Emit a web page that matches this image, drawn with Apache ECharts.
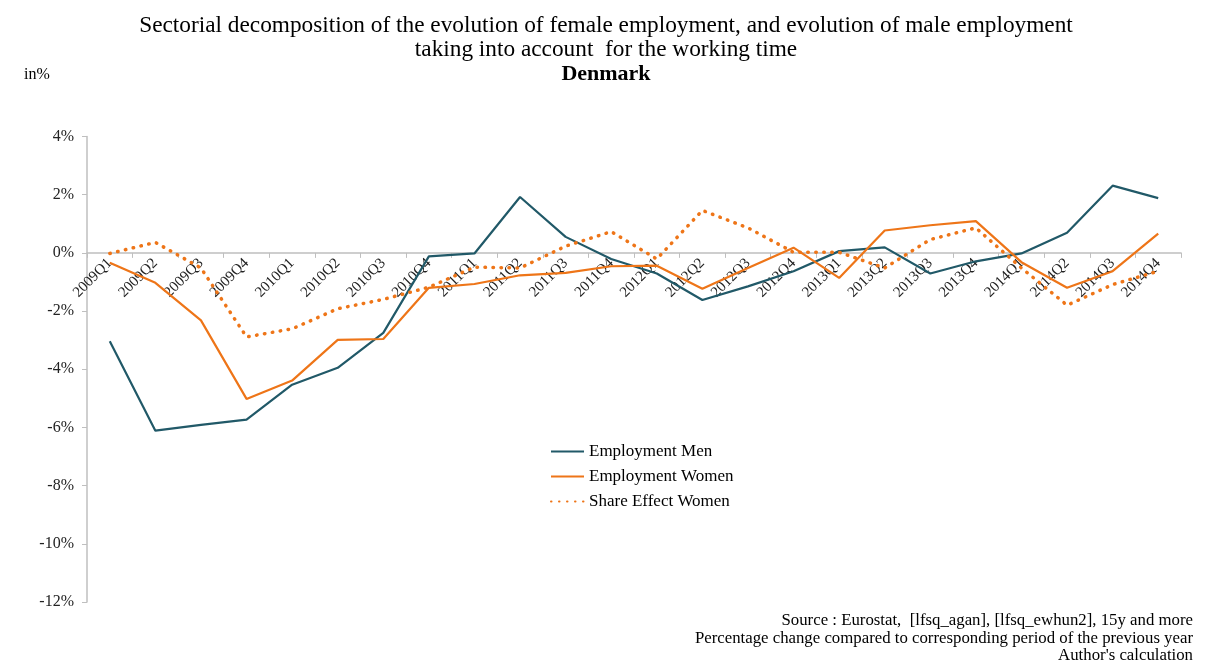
<!DOCTYPE html>
<html>
<head>
<meta charset="utf-8">
<script src="https://cdn.jsdelivr.net/npm/echarts@6/dist/echarts.min.js"></script>
<style>html,body{margin:0;padding:0;background:#fff}#c{width:1212px;height:668px}</style>
</head>
<body>
<div id="c"></div>
<script>
const categories = ['2009Q1','2009Q2','2009Q3','2009Q4','2010Q1','2010Q2','2010Q3','2010Q4','2011Q1','2011Q2','2011Q3','2011Q4','2012Q1','2012Q2','2012Q3','2012Q4','2013Q1','2013Q2','2013Q3','2013Q4','2014Q1','2014Q2','2014Q3','2014Q4'];
const employmentMen = [-3.04,-6.11,-5.91,-5.73,-4.53,-3.95,-2.75,-0.12,-0.02,1.92,0.55,-0.21,-0.71,-1.62,-1.15,-0.63,0.06,0.19,-0.71,-0.29,-0.02,0.69,2.31,1.88];
const employmentWomen = [-0.34,-1.03,-2.32,-5.02,-4.39,-2.99,-2.96,-1.2,-1.07,-0.77,-0.69,-0.46,-0.44,-1.23,-0.52,0.18,-0.86,0.77,0.95,1.09,-0.32,-1.2,-0.63,0.66];
const shareEffectWomen = [-0.02,0.36,-0.52,-2.89,-2.61,-1.92,-1.6,-1.18,-0.49,-0.52,0.23,0.73,-0.21,1.46,0.86,0.02,0.02,-0.52,0.46,0.86,-0.52,-1.8,-1.09,-0.63];
const yTicks = {min:-12, max:4, interval:2};

const serif = '"Liberation Serif", "DejaVu Serif", serif';
const teal = '#215968';
const orange = '#EE7518';
const gridTop = 136.5, gridBottom = 66, H = 668;
const chart = echarts.init(document.getElementById('c'));
const plotH = H - gridTop - gridBottom;
const zeroOffset = -plotH * (0 - yTicks.min) / (yTicks.max - yTicks.min);
chart.setOption({
  backgroundColor:'#fff',
  animation:false,
  textStyle:{fontFamily:serif},
  title:{
    text:'Sectorial decomposition of the evolution of female employment, and evolution of male employment\ntaking into account  for the working time',
    subtext:'Denmark',
    left:'center', top:9, itemGap:1,
    textStyle:{fontFamily:serif,fontSize:23.3,fontWeight:'normal',color:'#000',lineHeight:24},
    subtextStyle:{fontFamily:serif,fontSize:22,fontWeight:'bold',color:'#000'}
  },
  grid:{left:87,right:31,top:gridTop,bottom:gridBottom,containLabel:false},
  legend:{
    orient:'vertical', left:545, top:438, itemGap:8, itemWidth:33, itemHeight:12,
    itemStyle:{opacity:0},
    textStyle:{fontFamily:serif,fontSize:17,color:'#000'},
    data:['Employment Men','Employment Women','Share Effect Women']
  },
  xAxis:{
    type:'category', data:categories, boundaryGap:true, position:'bottom', offset:zeroOffset,
    axisLine:{onZero:false,lineStyle:{color:'#BFBFBF',width:1.5}},
    axisTick:{show:true,length:5,lineStyle:{color:'#BFBFBF'}},
    axisLabel:{rotate:45,interval:0,fontFamily:serif,fontSize:15,color:'#222',margin:8}
  },
  yAxis:{
    type:'value', min:yTicks.min, max:yTicks.max, interval:yTicks.interval,
    axisLine:{show:true,lineStyle:{color:'#BFBFBF',width:1.5}},
    axisTick:{show:true,length:5,lineStyle:{color:'#BFBFBF'}},
    splitLine:{show:false},
    axisLabel:{formatter:v=>v+'%',fontFamily:serif,fontSize:16,color:'#222',margin:13}
  },
  graphic:[
    {type:'text',x:24,y:67,style:{text:'in%',font:'16px '+serif,fill:'#000'}},
    {type:'text',x:1193,y:612,style:{text:"Source : Eurostat,  [lfsq_agan], [lfsq_ewhun2], 15y and more\nPercentage change compared to corresponding period of the previous year\nAuthor's calculation",font:'16.8px '+serif,fill:'#000',align:'right',lineHeight:17.5}}
  ],
  series:[
    {name:'Employment Men',type:'line',data:employmentMen,symbol:'none',lineStyle:{color:teal,width:2.2},itemStyle:{color:teal}},
    {name:'Employment Women',type:'line',data:employmentWomen,symbol:'none',lineStyle:{color:orange,width:2.2},itemStyle:{color:orange}},
    {name:'Share Effect Women',type:'line',data:shareEffectWomen,symbol:'none',lineStyle:{color:orange,width:3.5,type:[0.5,7.5],cap:'round'},itemStyle:{color:orange}}
  ]
});
</script>
</body>
</html>
